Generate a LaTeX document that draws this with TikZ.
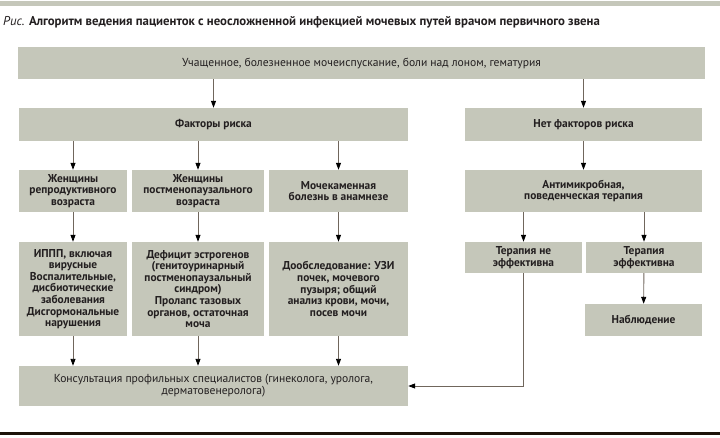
\documentclass[tikz,border=0pt]{standalone}
\usepackage{fontspec}
\setmainfont{PT Sans}
\usetikzlibrary{arrows.meta}
\definecolor{boxfill}{RGB}{197,199,186}
\definecolor{linec}{RGB}{112,102,92}
\definecolor{txt}{RGB}{35,31,32}
\begin{document}
\begin{tikzpicture}[x=1pt,y=-1pt,
  box/.style={fill=boxfill, draw=none, inner sep=0pt, align=center, text=txt,
    font=\fontsize{11.4}{11.6}\selectfont\bfseries},
  rbox/.style={box, font=\fontsize{11.6}{12}\selectfont},
  arr/.style={draw=linec, line width=0.9pt, -{Triangle[length=7pt,width=5pt,fill=black,color=black]}},
  ln/.style={draw=linec, line width=0.9pt}]
\useasboundingbox (0,0) rectangle (720,438);
\fill[boxfill] (0,1) rectangle (720,6);
\fill[black!85!brown] (0,432) rectangle (720,435);
\node[anchor=west, inner sep=0pt, text=txt, font=\fontsize{12.8}{14}\selectfont] (title) at (3,22)
  {\textit{Рис.} \textbf{Алгоритм ведения пациенток с неосложненной инфекцией мочевых путей врачом первичного звена}};
\node[rbox, minimum width=687, minimum height=32] (b1) at (361.5,63) {Учащенное, болезненное мочеиспускание, боли над лоном, гематурия};
\node[box, minimum width=389, minimum height=33] (risk) at (213.5,124.5) {Факторы риска};
\node[box, minimum width=237, minimum height=33] (norisk) at (583.5,124.5) {Нет факторов риска};
\node[box, minimum width=108, minimum height=42] (a2) at (73,191) {Женщины\\репродуктивного\\возраста};
\node[box, minimum width=132, minimum height=42] (b2) at (198,191) {Женщины\\постменопаузального\\возраста};
\node[box, minimum width=139, minimum height=42] (c2) at (338.5,191) {Мочекаменная\\болезнь в анамнезе};
\node[box, minimum width=237, minimum height=42] (anti) at (583.5,191) {Антимикробная,\\поведенческая терапия};
\node[box, minimum width=108, minimum height=94] (a3) at (73,289) {ИППП, включая\\вирусные\\Воспалительные,\\дисбиотические\\заболевания\\Дисгормональные\\нарушения};
\node[box, minimum width=132, minimum height=94] (b3) at (198,289) {Дефицит эстрогенов\\(генитоуринарный\\постменопаузальный\\синдром)\\Пролапс тазовых\\органов, остаточная\\моча};
\node[box, minimum width=139, minimum height=94] (c3) at (338.5,289) {Дообследование: УЗИ\\почек, мочевого\\пузыря; общий\\анализ крови, мочи,\\посев мочи};
\node[box, minimum width=117, minimum height=31] (tne) at (523.5,257.5) {Терапия не\\эффективна};
\node[box, minimum width=116, minimum height=31] (teff) at (644,257.5) {Терапия\\эффективна};
\node[box, minimum width=117, minimum height=32] (nabl) at (643.5,320) {Наблюдение};
\node[rbox, minimum width=389, minimum height=40] (kons) at (213.5,386) {Консультация профильных специалистов (гинеколога, уролога,\\дерматовенеролога)};
\draw[arr] (b1.south -| risk.north) -- (risk.north);
\draw[arr] (b1.south -| norisk.north) -- (norisk.north);
\draw[arr] (risk.south -| a2.north) -- (a2.north);
\draw[arr] (risk.south -| b2.north) -- (b2.north);
\draw[arr] (risk.south -| c2.north) -- (c2.north);
\draw[arr] (a2) -- (a3);
\draw[arr] (b2) -- (b3);
\draw[arr] (c2) -- (c3);
\draw[arr] (a3.south) -- (a3.south |- kons.north);
\draw[arr] (b3.south) -- (b3.south |- kons.north);
\draw[arr] (c3.south) -- (c3.south |- kons.north);
\draw[arr] (norisk) -- (anti);
\draw[arr] (anti.south -| tne.north) -- (tne.north);
\draw[arr] (anti.south -| teff.north) -- (teff.north);
\draw[arr] (teff) -- (nabl);
\draw[arr] (tne.south) |- (kons.east);
\end{tikzpicture}
\end{document}
